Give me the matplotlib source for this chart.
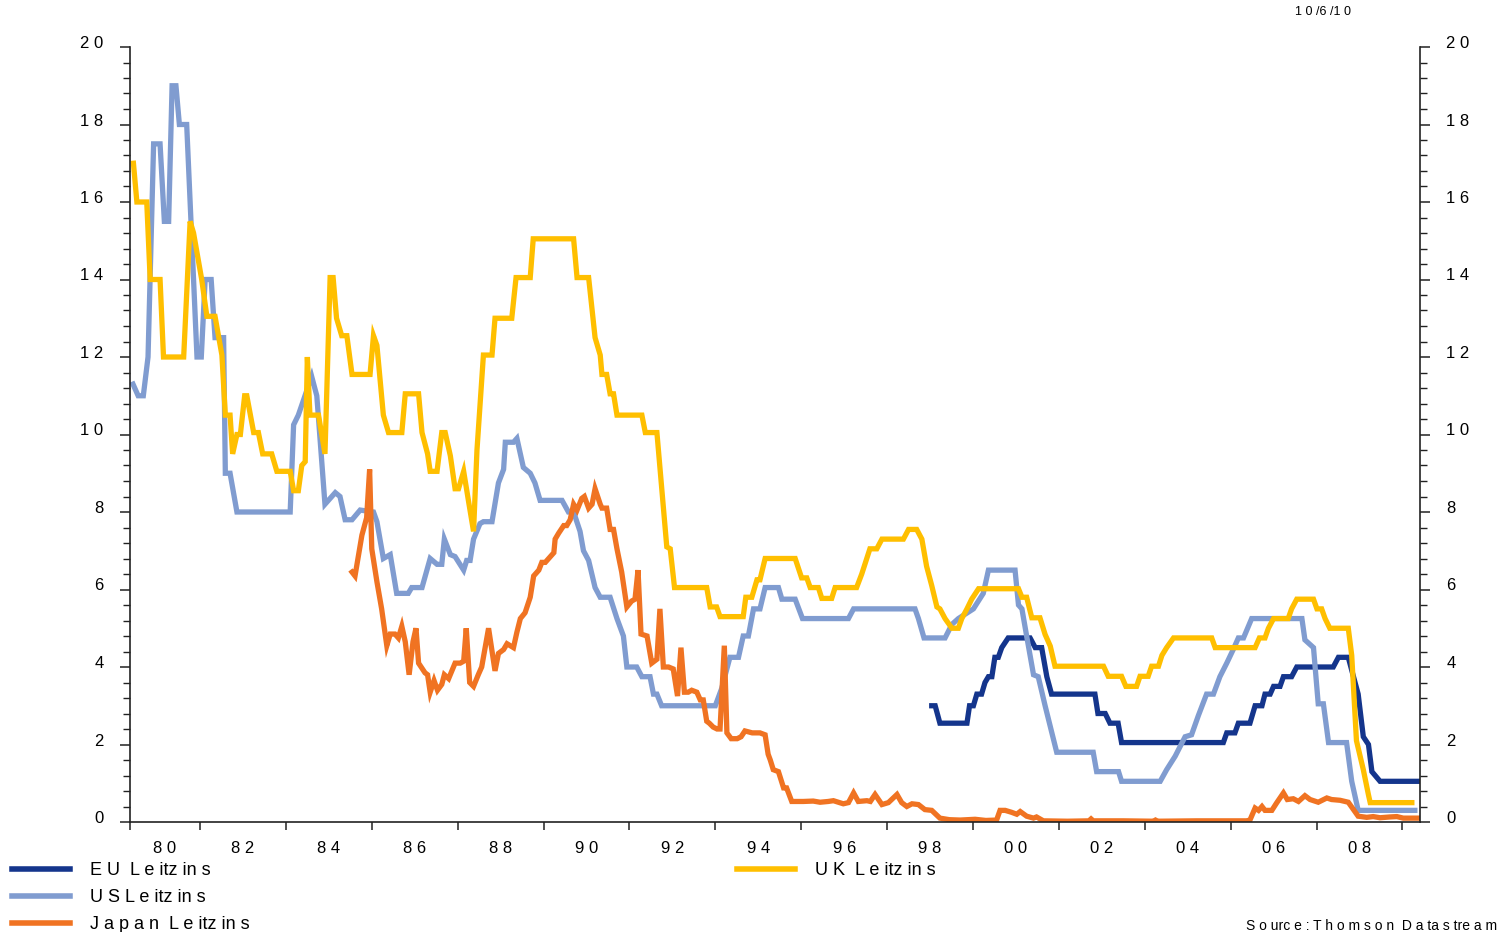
import matplotlib
matplotlib.use("Agg")
import matplotlib.pyplot as plt
from matplotlib.ticker import MultipleLocator
from matplotlib.transforms import ScaledTranslation

plt.rcParams['font.family'] = ['Liberation Sans', 'DejaVu Sans']

# decimal years / policy rate in %
eu_t = [1999.04, 1999.12, 1999.23, 1999.86, 1999.92, 2000.01, 2000.09, 2000.20, 2000.28, 2000.36,
        2000.44, 2000.51, 2000.59, 2000.67, 2000.82, 2001.33, 2001.45, 2001.60, 2001.72, 2001.83,
        2002.84, 2002.91, 2003.08, 2003.19, 2003.38, 2003.46, 2005.83, 2005.91, 2006.10, 2006.18,
        2006.45, 2006.57, 2006.73, 2006.80, 2006.92, 2007.00, 2007.15, 2007.23, 2007.42, 2007.54,
        2008.39, 2008.51, 2008.74, 2008.97, 2009.09, 2009.21, 2009.29, 2009.48, 2010.41]
eu_v = [3.0, 3.0, 2.55, 2.55, 3.0, 3.0, 3.3, 3.3, 3.6, 3.75,
        3.75, 4.25, 4.25, 4.5, 4.75, 4.75, 4.5, 4.5, 3.75, 3.3,
        3.3, 2.8, 2.8, 2.55, 2.55, 2.05, 2.05, 2.3, 2.3, 2.55,
        2.55, 3.0, 3.0, 3.3, 3.3, 3.5, 3.5, 3.75, 3.75, 4.0,
        4.0, 4.25, 4.25, 3.3, 2.2, 2.0, 1.3, 1.05, 1.05]

us_t = [1980.44, 1980.56, 1980.68, 1980.79, 1980.92, 1981.07, 1981.17, 1981.27, 1981.35, 1981.44,
        1981.52, 1981.69, 1981.93, 1982.03, 1982.12, 1982.26, 1982.35, 1982.55, 1982.59, 1982.70,
        1982.86, 1984.10, 1984.18, 1984.29, 1984.60, 1984.72, 1984.91, 1985.15, 1985.26, 1985.38,
        1985.54, 1985.73, 1986.04, 1986.12, 1986.27, 1986.43, 1986.58, 1986.85, 1986.93, 1987.17,
        1987.36, 1987.52, 1987.63, 1987.69, 1987.83, 1987.94, 1988.14, 1988.21, 1988.29, 1988.37,
        1988.52, 1988.60, 1988.80, 1988.95, 1989.07, 1989.11, 1989.30, 1989.38, 1989.53, 1989.69,
        1989.80, 1989.92, 1990.43, 1990.58, 1990.70, 1990.85, 1990.93, 1991.05, 1991.20, 1991.32,
        1991.55, 1991.71, 1991.86, 1991.94, 1992.17, 1992.29, 1992.48, 1992.56, 1992.64, 1992.75,
        1994.00, 1994.15, 1994.34, 1994.54, 1994.65, 1994.77, 1994.89, 1995.04, 1995.16, 1995.47,
        1995.55, 1995.86, 1996.03, 1997.10, 1997.22, 1998.65, 1998.73, 1998.86, 1999.35, 1999.51,
        1999.66, 2000.01, 2000.24, 2000.36, 2000.98, 2001.06, 2001.14, 2001.25, 2001.41, 2001.52,
        2001.68, 2001.95, 2002.80, 2002.88, 2003.39, 2003.46, 2004.36, 2004.51, 2004.71, 2004.94,
        2005.09, 2005.25, 2005.44, 2005.60, 2005.75, 2005.91, 2006.06, 2006.18, 2006.30, 2006.49,
        2007.66, 2007.73, 2007.93, 2008.04, 2008.16, 2008.28, 2008.70, 2008.82, 2008.97, 2010.29]
us_v = [11.3, 11.0, 11.0, 12.0, 17.5, 17.5, 15.5, 15.5, 19.0, 19.0,
        18.0, 18.0, 12.0, 12.0, 14.0, 14.0, 12.5, 12.5, 9.0, 9.0,
        8.0, 8.0, 10.25, 10.5, 11.5, 11.0, 8.2, 8.5, 8.4, 7.8,
        7.8, 8.05, 8.0, 7.75, 6.8, 6.9, 5.9, 5.9, 6.05, 6.05,
        6.8, 6.65, 6.65, 7.3, 6.9, 6.85, 6.5, 6.75, 6.75, 7.3,
        7.7, 7.75, 7.75, 8.75, 9.1, 9.8, 9.8, 9.9, 9.15, 9.0,
        8.75, 8.3, 8.3, 8.0, 8.0, 7.5, 7.0, 6.75, 6.05, 5.8,
        5.8, 5.25, 4.8, 4.0, 4.0, 3.75, 3.75, 3.3, 3.3, 3.0,
        3.0, 3.45, 4.25, 4.25, 4.8, 4.8, 5.5, 5.5, 6.05, 6.05,
        5.75, 5.75, 5.25, 5.25, 5.5, 5.5, 5.25, 4.75, 4.75, 5.1,
        5.25, 5.5, 5.9, 6.5, 6.5, 5.6, 5.5, 4.8, 3.8, 3.75,
        3.0, 1.8, 1.8, 1.3, 1.3, 1.05, 1.05, 1.35, 1.7, 2.2,
        2.25, 2.75, 3.3, 3.3, 3.75, 4.1, 4.45, 4.75, 4.75, 5.25,
        5.25, 4.7, 4.5, 3.05, 3.05, 2.05, 2.05, 1.05, 0.3, 0.3]

jp_t = [1985.54, 1985.61, 1985.77, 1985.88, 1985.95, 1986.00, 1986.12, 1986.23, 1986.35, 1986.43,
        1986.54, 1986.62, 1986.70, 1986.78, 1986.87, 1986.96, 1987.03, 1987.09, 1987.24, 1987.30,
        1987.36, 1987.45, 1987.53, 1987.63, 1987.69, 1987.79, 1987.94, 1988.06, 1988.14, 1988.20,
        1988.28, 1988.37, 1988.48, 1988.56, 1988.72, 1988.87, 1988.95, 1989.07, 1989.15, 1989.30,
        1989.38, 1989.46, 1989.57, 1989.69, 1989.77, 1989.89, 1989.96, 1990.04, 1990.16, 1990.24,
        1990.27, 1990.35, 1990.47, 1990.54, 1990.62, 1990.70, 1990.78, 1990.89, 1990.95, 1991.05,
        1991.13, 1991.20, 1991.32, 1991.36, 1991.47, 1991.55, 1991.63, 1991.71, 1991.82, 1991.94,
        1992.05, 1992.13, 1992.20, 1992.27, 1992.41, 1992.52, 1992.64, 1992.71, 1992.79, 1992.91,
        1993.02, 1993.12, 1993.20, 1993.28, 1993.37, 1993.45, 1993.57, 1993.65, 1993.72, 1993.80,
        1993.86, 1993.95, 1994.04, 1994.11, 1994.21, 1994.27, 1994.37, 1994.51, 1994.60, 1994.69,
        1994.86, 1995.04, 1995.16, 1995.23, 1995.28, 1995.35, 1995.47, 1995.59, 1995.66, 1995.78,
        1996.05, 1996.28, 1996.44, 1996.63, 1996.75, 1996.98, 1997.10, 1997.22, 1997.33, 1997.53,
        1997.61, 1997.72, 1997.88, 1998.03, 1998.23, 1998.34, 1998.46, 1998.58, 1998.73, 1998.88,
        1999.04, 1999.23, 1999.45, 1999.70, 2000.05, 2000.30, 2000.55, 2000.63, 2000.75, 2000.90,
        2001.02, 2001.10, 2001.25, 2001.41, 2001.48, 2001.64, 2002.20, 2002.70, 2002.75, 2002.80,
        2003.50, 2004.20, 2004.25, 2004.30, 2005.20, 2006.37, 2006.45, 2006.57, 2006.65, 2006.73,
        2006.80, 2006.96, 2007.07, 2007.23, 2007.32, 2007.46, 2007.58, 2007.73, 2007.85, 2008.04,
        2008.24, 2008.35, 2008.55, 2008.74, 2008.86, 2008.97, 2009.17, 2009.32, 2009.48, 2009.71,
        2009.87, 2010.02, 2010.37]
jp_v = [6.45, 6.35, 7.4, 7.85, 9.1, 7.05, 6.2, 5.5, 4.55, 4.85,
        4.85, 4.75, 5.05, 4.65, 3.8, 4.65, 5.0, 4.1, 3.85, 3.8,
        3.35, 3.65, 3.4, 3.55, 3.8, 3.7, 4.1, 4.1, 4.15, 5.0,
        3.6, 3.5, 3.8, 4.0, 5.0, 3.9, 4.35, 4.45, 4.6, 4.5,
        4.9, 5.25, 5.4, 5.8, 6.35, 6.5, 6.7, 6.7, 6.85, 6.95,
        7.3, 7.45, 7.65, 7.65, 7.8, 8.2, 8.05, 8.35, 8.4, 8.1,
        8.2, 8.6, 8.2, 8.1, 8.1, 7.55, 7.55, 7.05, 6.45, 5.55,
        5.7, 5.75, 6.5, 4.85, 4.8, 4.1, 4.2, 5.5, 4.0, 4.0,
        3.95, 3.25, 4.5, 3.35, 3.35, 3.4, 3.35, 3.15, 3.15, 2.6,
        2.55, 2.45, 2.4, 2.4, 4.55, 2.3, 2.15, 2.15, 2.2, 2.35,
        2.3, 2.3, 2.25, 1.75, 1.6, 1.35, 1.3, 0.88, 0.88, 0.53,
        0.53, 0.54, 0.51, 0.53, 0.55, 0.47, 0.5, 0.75, 0.53, 0.55,
        0.53, 0.71, 0.45, 0.5, 0.71, 0.5, 0.4, 0.47, 0.45, 0.32,
        0.3, 0.1, 0.06, 0.05, 0.07, 0.04, 0.05, 0.3, 0.3, 0.25,
        0.2, 0.27, 0.15, 0.1, 0.13, 0.03, 0.02, 0.03, 0.08, 0.03,
        0.03, 0.02, 0.05, 0.02, 0.03, 0.03, 0.05, 0.36, 0.3, 0.4,
        0.3, 0.3, 0.49, 0.75, 0.58, 0.6, 0.53, 0.68, 0.58, 0.51,
        0.62, 0.58, 0.56, 0.51, 0.32, 0.15, 0.12, 0.14, 0.11, 0.13,
        0.14, 0.1, 0.1]

uk_t = [1980.45, 1980.53, 1980.76, 1980.84, 1981.07, 1981.15, 1981.62, 1981.77, 1981.85, 1982.04,
        1982.16, 1982.35, 1982.51, 1982.59, 1982.70, 1982.76, 1982.86, 1982.94, 1983.04, 1983.09,
        1983.25, 1983.36, 1983.46, 1983.67, 1983.79, 1984.10, 1984.18, 1984.29, 1984.37, 1984.45,
        1984.50, 1984.56, 1984.76, 1984.91, 1985.03, 1985.10, 1985.18, 1985.30, 1985.42, 1985.54,
        1985.96, 1986.04, 1986.12, 1986.27, 1986.39, 1986.70, 1986.78, 1987.09, 1987.17, 1987.30,
        1987.36, 1987.52, 1987.63, 1987.71, 1987.83, 1987.94, 1988.02, 1988.14, 1988.25, 1988.37,
        1988.45, 1988.60, 1988.80, 1988.87, 1989.26, 1989.36, 1989.69, 1989.76, 1990.70, 1990.78,
        1991.05, 1991.20, 1991.32, 1991.36, 1991.47, 1991.55, 1991.63, 1991.71, 1992.29, 1992.37,
        1992.64, 1992.75, 1992.87, 1992.95, 1993.05, 1993.80, 1993.88, 1994.03, 1994.11, 1994.65,
        1994.71, 1994.85, 1994.97, 1995.04, 1995.16, 1995.86, 1996.01, 1996.13, 1996.21, 1996.40,
        1996.48, 1996.71, 1996.79, 1997.29, 1997.41, 1997.60, 1997.76, 1997.88, 1998.38, 1998.50,
        1998.69, 1998.81, 1998.92, 1999.04, 1999.16, 1999.23, 1999.35, 1999.51, 1999.66, 1999.74,
        1999.86, 1999.97, 2000.13, 2001.06, 2001.14, 2001.25, 2001.37, 2001.56, 2001.68, 2001.80,
        2001.91, 2003.04, 2003.15, 2003.46, 2003.56, 2003.81, 2003.89, 2004.08, 2004.16, 2004.32,
        2004.40, 2004.51, 2004.67, 2005.56, 2005.64, 2006.57, 2006.67, 2006.80, 2006.88, 2007.00,
        2007.34, 2007.42, 2007.54, 2007.93, 2008.01, 2008.12, 2008.20, 2008.31, 2008.74, 2008.82,
        2008.93, 2009.09, 2009.21, 2009.25, 2010.22]
uk_v = [17.0, 16.0, 16.0, 14.0, 14.0, 12.0, 12.0, 15.5, 15.2, 14.0,
        13.05, 13.05, 12.05, 10.5, 10.5, 9.5, 10.0, 10.0, 11.0, 11.0,
        10.05, 10.05, 9.5, 9.5, 9.05, 9.05, 8.55, 8.55, 9.2, 9.3,
        12.0, 10.5, 10.5, 9.5, 14.05, 14.05, 13.0, 12.55, 12.55, 11.55,
        11.55, 12.55, 12.3, 10.5, 10.05, 10.05, 11.05, 11.05, 10.05, 9.5,
        9.05, 9.05, 10.05, 10.05, 9.45, 8.6, 8.6, 9.05, 8.3, 7.5,
        9.6, 12.05, 12.05, 13.0, 13.0, 14.05, 14.05, 15.05, 15.05, 14.05,
        14.05, 12.5, 12.05, 11.55, 11.55, 11.05, 11.05, 10.5, 10.5, 10.05,
        10.05, 8.65, 7.1, 7.05, 6.05, 6.05, 5.55, 5.55, 5.3, 5.3,
        5.8, 5.8, 6.25, 6.25, 6.8, 6.8, 6.3, 6.3, 6.05, 6.05,
        5.77, 5.77, 6.05, 6.05, 6.4, 7.05, 7.05, 7.3, 7.3, 7.55,
        7.55, 7.3, 6.6, 6.1, 5.55, 5.5, 5.25, 5.0, 5.0, 5.25,
        5.5, 5.75, 6.02, 6.02, 5.8, 5.8, 5.27, 5.27, 4.84, 4.54,
        4.02, 4.02, 3.76, 3.76, 3.5, 3.5, 3.76, 3.76, 4.02, 4.02,
        4.3, 4.5, 4.75, 4.75, 4.5, 4.5, 4.75, 4.75, 5.0, 5.25,
        5.25, 5.5, 5.75, 5.75, 5.5, 5.5, 5.25, 5.0, 5.0, 4.3,
        2.1, 1.35, 0.7, 0.5, 0.5]

names = ["E U  L e itz in s", "U S L e itz in s", "J a p a n  L e itz in s", "U K  L e itz in s"]
colors = ["#14358C", "#809CD0", "#F07322", "#FFBF00"]
y_labels = ["0", "2", "4", "6", "8", "1 0", "1 2", "1 4", "1 6", "1 8", "2 0"]
x_labels = ["8 0", "8 2", "8 4", "8 6", "8 8", "9 0", "9 2", "9 4", "9 6", "9 8",
            "0 0", "0 2", "0 4", "0 6", "0 8"]

fig = plt.figure(figsize=(14.99, 9.32), dpi=100)
ax = fig.add_axes([130 / 1499, 1 - 822 / 932, 1290 / 1499, 775 / 932])

lw = 3.8
series = [(eu_t, eu_v), (us_t, us_v), (jp_t, jp_v), (uk_t, uk_v)]
handles = []
for (t, v), c in zip(series, colors):
    h, = ax.plot(t, v, color=c, lw=lw, solid_joinstyle='miter')
    handles.append(h)

x0, x1 = 1980.37, 2010.41
ax.set_xlim(x0, x1)
ax.set_ylim(0, 20)

ax.spines['top'].set_visible(False)
for s in ['left', 'right', 'bottom']:
    ax.spines[s].set_color('#222222')
    ax.spines[s].set_linewidth(1.2)

# y axis, labels on both sides
ax.set_yticks(range(0, 21, 2))
ax.set_yticklabels(y_labels)
ax.yaxis.set_minor_locator(MultipleLocator(0.4))
ax.tick_params(axis='y', which='major', direction='out', length=7, width=1.1,
               left=True, right=True, labelleft=True, labelright=True,
               labelsize=12, pad=12, colors='#222222', labelcolor='black')
ax.tick_params(axis='y', which='minor', direction='out', length=5, width=1.0,
               left=True, right=True, colors='#222222')
shift = ScaledTranslation(0, 5 / 100, fig.dpi_scale_trans)
for tk in ax.yaxis.get_major_ticks():
    tk.label1.set_transform(tk.label1.get_transform() + shift)
    tk.label2.set_transform(tk.label2.get_transform() + shift)

# x axis: ticks at period boundaries, labels centred between them
bounds = [x0] + list(range(1982, 2011, 2))
ax.set_xticks(bounds)
ax.set_xticklabels([''] * len(bounds))
mids = [(a + b) / 2 for a, b in zip(bounds[:-1], bounds[1:])]
ax.set_xticks(mids, minor=True)
ax.set_xticklabels(x_labels, minor=True)
ax.tick_params(axis='x', which='major', direction='out', length=6, width=1.1, colors='#222222')
ax.tick_params(axis='x', which='minor', length=0, labelsize=12, pad=14, labelcolor='black')

# legends
leg_kw = dict(loc='upper left', frameon=False, fontsize=13, handlelength=3.2, handletextpad=1.1,
              labelspacing=0.56, borderpad=0, borderaxespad=0)
leg1 = fig.legend(handles[:3], names[:3], bbox_to_anchor=(12 / 1499, 1 - 862 / 932), **leg_kw)
leg2 = fig.legend(handles[3:], names[3:], bbox_to_anchor=(737 / 1499, 1 - 862 / 932), **leg_kw)
for lg in (leg1, leg2):
    for ln in lg.get_lines():
        ln.set_linewidth(4)

fig.text(1323 / 1499, 1 - 12 / 932, "1 0 /6 /1 0", ha='center', va='center', fontsize=9)
fig.text(1497 / 1499, 1 - 926 / 932, "S o urc e : T h o m s o n  D a ta s tre a m",
         ha='right', va='center', fontsize=10)

fig.savefig("out.png", dpi=100)
